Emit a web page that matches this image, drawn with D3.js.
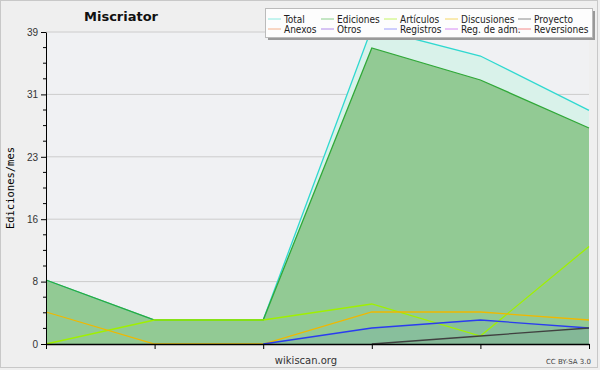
<!DOCTYPE html>
<html>
<head>
<meta charset="utf-8">
<script src="https://cdn.jsdelivr.net/npm/d3@7"></script>
<style>
  body { margin: 0; background: #efefef; }
  svg { display: block; font-family: "DejaVu Sans", sans-serif; }
</style>
</head>
<body>
<div id="graph"></div>
<script>
// months (no labels shown on the x axis)
const months = [0, 1, 2, 3, 4, 5];

// series values (null = no data yet)
const total = [8, 3, 3, 39.5, 36, 29.2];
const ediciones = [8, 3, 3, 37, 33, 27];
const articulos = [0, 3, 3, 5, 1, 12.2];
const discusiones = [4, 0, 0, 4, 4, 3];
const registros = [null, null, 0, 2, 3, 2];
const proyecto = [null, null, null, 0, 1, 2];

const yMax = 39;
const yTicks = [0, 7.8, 15.6, 23.4, 31.2, 39];

const legendNames = ["Total", "Ediciones", "Artículos", "Discusiones", "Proyecto",
  "Anexos", "Otros", "Registros", "Reg. de adm.", "Reversiones"];
const legendColors = ["#40e0d0", "#40b040", "#a0f000", "#f0c000", "#404040",
  "#f08040", "#8040e0", "#6060ff", "#c040f0", "#f04040"];

const W = 600, H = 370;
const margin = { top: 32, right: 11, bottom: 26, left: 46 };
const width = W - margin.left - margin.right,
  height = H - margin.top - margin.bottom;

const root = d3.select("#graph").append("svg")
  .attr("width", W).attr("height", H);

// outer frame
root.append("rect").attr("x", 0.5).attr("y", 0.5).attr("width", W - 3).attr("height", H - 3)
  .attr("fill", "#efefef").attr("stroke", "#c8c8c8");

const svg = root.append("g")
  .attr("transform", "translate(" + margin.left + "," + margin.top + ")");

svg.append("rect").attr("width", width).attr("height", height).attr("fill", "#f0f1f3");

const x = d3.scaleLinear().domain([0, 5]).range([0, width]);
const y = d3.scaleLinear().domain([0, yMax]).range([height, 0]);

// grid
svg.append("g")
  .selectAll("line")
  .data(yTicks.slice(1))
  .enter().append("line")
  .attr("x1", 0).attr("x2", width)
  .attr("y1", d => y(d)).attr("y2", d => y(d))
  .attr("stroke", "#cccccc").attr("stroke-width", 1);

const area = d3.area()
  .defined(d => d != null)
  .x((d, i) => x(months[i]))
  .y0(y(0))
  .y1(d => y(d));
const line = d3.line()
  .defined(d => d != null)
  .x((d, i) => x(months[i]))
  .y(d => y(d));

// filled series
svg.append("path").datum(total).attr("d", area).attr("fill", "#d9f2ea");
svg.append("path").datum(ediciones).attr("d", area).attr("fill", "#92ca94");
svg.append("path").datum(registros).attr("d", area).attr("fill", "#3060f0").attr("fill-opacity", 0.1);
svg.append("path").datum(proyecto).attr("d", area).attr("fill", "#404040").attr("fill-opacity", 0.05);

const lines = [
  [total, "#30d8d0"],
  [ediciones, "#30a838"],
  [articulos, "#a0f000"],
  [discusiones, "#f0b800"],
  [registros, "#2a3cf0"],
  [proyecto, "#404040"]
];
lines.forEach(([data, color]) => {
  svg.append("path").datum(data)
    .attr("fill", "none")
    .attr("stroke", color)
    .attr("stroke-width", 1.3)
    .attr("d", line);
});

// y axis
const yAxis = svg.append("g")
  .call(d3.axisLeft(y).tickValues(yTicks).tickSize(5).tickFormat(d => Math.round(d)).tickSizeOuter(0));
yAxis.selectAll("text").attr("font-size", 10).attr("fill", "#333").attr("font-family", "Liberation Sans Narrow, Liberation Sans, sans-serif");
// minor ticks
const minor = d3.range(0, 39.01, 1.95).filter(v => !yTicks.some(t => Math.abs(t - v) < 0.01));
svg.append("g").selectAll("line").data(minor).enter().append("line")
  .attr("x1", -3).attr("x2", 0)
  .attr("y1", d => y(d)).attr("y2", d => y(d))
  .attr("stroke", "#000");

// x axis
svg.append("g")
  .attr("transform", "translate(0," + height + ")")
  .call(d3.axisBottom(x).tickValues(months).tickSize(5).tickFormat("").tickSizeOuter(0))
  .call(g => g.select(".domain").attr("stroke-width", 1.5));

// texts
root.append("text").attr("x", 84).attr("y", 21)
  .attr("font-size", 13).attr("font-weight", "bold").attr("fill", "#111")
  .text("Miscriator");

root.append("text")
  .attr("transform", "translate(14," + (margin.top + height / 2) + ") rotate(-90)")
  .attr("text-anchor", "middle").attr("font-size", 10.5)
  .attr("font-family", "DejaVu Sans Mono, monospace")
  .text("Ediciones/mes");

root.append("text").attr("x", 306).attr("y", 364).attr("text-anchor", "middle")
  .attr("font-size", 10).attr("fill", "#333").text("wikiscan.org");
root.append("text").attr("x", 591).attr("y", 364).attr("text-anchor", "end")
  .attr("font-size", 7).attr("fill", "#444").text("CC BY-SA 3.0");

// legend
const lg = root.append("g").attr("id", "legend");
lg.append("rect").attr("x", 268).attr("y", 11).attr("width", 327).attr("height", 29).attr("fill", "#999");
lg.append("rect").attr("x", 265.5).attr("y", 8.5).attr("width", 327).attr("height", 29)
  .attr("fill", "#fdfdfd").attr("stroke", "#bbb");
const colX = [268, 321, 384, 445, 518];
lg.selectAll(".legendLine").data(legendNames).enter().append("line")
  .attr("x1", (d, i) => colX[i % 5]).attr("x2", (d, i) => colX[i % 5] + 13)
  .attr("y1", (d, i) => 19 + 10 * Math.floor(i / 5)).attr("y2", (d, i) => 19 + 10 * Math.floor(i / 5))
  .attr("stroke", (d, i) => legendColors[i]).attr("stroke-opacity", 0.6);
lg.selectAll(".legendLabel").data(legendNames).enter().append("text")
  .attr("x", (d, i) => colX[i % 5] + 16)
  .attr("y", (d, i) => 23 + 10 * Math.floor(i / 5))
  .attr("font-size", 10).attr("fill", "#222")
  .attr("font-family", "DejaVu Sans Condensed, DejaVu Sans, sans-serif")
  .attr("font-stretch", "condensed")
  .text(d => d);
</script>
</body>
</html>
